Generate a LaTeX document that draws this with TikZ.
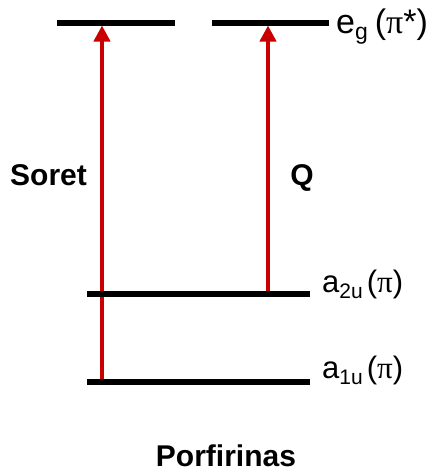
\documentclass[tikz,border=0pt]{standalone}
\usepackage{fontspec}
\setmainfont{Liberation Sans}
\newfontfamily\greekfont{Liberation Serif}
\usetikzlibrary{arrows.meta}
\definecolor{arrred}{RGB}{200,0,0}
\newcommand{\subtxt}[2]{{\fontsize{#1}{#1}\selectfont\raisebox{-6pt}{#2}}}
\begin{document}
\begin{tikzpicture}[x=1pt,y=1pt,
  level/.style={line width=6pt},
  trans/.style={line width=4pt, draw=arrred, -{Triangle[width=16pt,length=16pt,fill=arrred]}},
  lab/.style={font=\fontsize{31}{31}\selectfont, anchor=base west, inner sep=0pt},
  blab/.style={font=\fontsize{30}{30}\selectfont\bfseries, anchor=base, inner sep=0pt}]
\useasboundingbox (0,0) rectangle (433,-472);
% level end points
\coordinate (eL1) at (57,-22.5);
\coordinate (eL2) at (175,-22.5);
\coordinate (eR1) at (212,-22.5);
\coordinate (eR2) at (329,-22.5);
\coordinate (a2a) at (87,-294);
\coordinate (a2b) at (310,-294);
\coordinate (a1a) at (87,-382);
\coordinate (a1b) at (310,-382);
% transition end points
\coordinate (sS) at (102,-382);
\coordinate (sE) at (102,-25.5);
\coordinate (qS) at (268,-294);
\coordinate (qE) at (268,-25.5);
% transitions
\draw[trans] (sS) -- (sE);
\draw[trans] (qS) -- (qE);
% levels
\draw[level] (eL1) -- (eL2);
\draw[level] (eR1) -- (eR2);
\draw[level] (a2a) -- (a2b);
\draw[level] (a1a) -- (a1b);
% labels
\node[lab, font=\fontsize{34}{34}\selectfont] (eg) at (336,-33) {e\subtxt{23}{g}\hspace{7pt}({\greekfont π}*)};
\node[lab] (a2u) at (322,-292) {a\subtxt{21}{2u}\hspace{4pt}({\greekfont π})};
\node[lab] (a1u) at (322,-378) {a\subtxt{21}{1u}\hspace{4pt}({\greekfont π})};
\node[blab, anchor=base west] (soret) at (10,-185) {Soret};
\node[blab] (q) at (302,-185) {Q};
\node[blab] (porf) at (226,-466) {Porfirinas};
\end{tikzpicture}
\end{document}
